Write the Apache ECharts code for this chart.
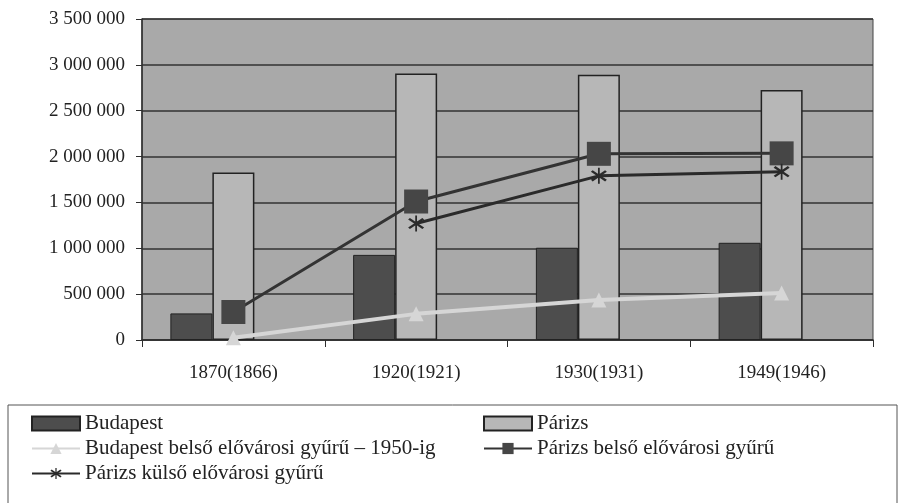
<!DOCTYPE html>
<html>
<head>
<meta charset="utf-8">
<script src="https://cdn.jsdelivr.net/npm/echarts@6/dist/echarts.min.js"></script>
<style>
  html, body { margin: 0; padding: 0; background: #fff; }
  #main { width: 905px; height: 503px; }
</style>
</head>
<body>
<div id="main"></div>
<script>
// kategóriák (év, zárójelben a párizsi adat éve)
var categories = ['1870(1866)', '1920(1921)', '1930(1931)', '1949(1946)'];

// oszlopok
var budapest = [290000, 928000, 1006000, 1060000];
var parizs = [1825000, 2906000, 2891000, 2725000];

// vonalak
var bpBelso = [25000, 285000, 436000, 512000];
var parizsBelso = [305000, 1510000, 2030000, 2035000];
var parizsKulso = [null, 1270000, 1790000, 1835000];

var seriesNames = [
    'Budapest',
    'Párizs',
    'Budapest belső elővárosi gyűrű – 1950-ig',
    'Párizs belső elővárosi gyűrű',
    'Párizs külső elővárosi gyűrű'
];

var font = 'Liberation Serif';
var dark = '#2e2e2e';

// csillag alakú jelölő
var asterisk = 'path://M9,0L11,0L11,20L9,20Z M1,5L3,3L19,15L17,17Z M17,3L19,5L3,17L1,15Z';

function fmt(v) {
    return String(v).replace(/\B(?=(\d{3})+(?!\d))/g, ' ');
}

var myChart = echarts.init(document.getElementById('main'));

var legendBase = {
    orient: 'vertical',
    top: 412,
    height: 150,
    padding: 0,
    itemWidth: 48,
    itemHeight: 14,
    itemGap: 2,
    textStyle: { color: '#222', fontFamily: font, fontSize: 21, lineHeight: 23 }
};

var option = {
    animation: false,
    grid: {
        left: 142,
        right: 32,
        top: 19,
        bottom: 163,
        show: true,
        backgroundColor: '#a9a9a9',
        borderColor: '#444',
        borderWidth: 1
    },
    xAxis: {
        type: 'category',
        data: categories,
        axisLine: { lineStyle: { color: dark, width: 1.5 } },
        axisTick: { show: true, length: 7, lineStyle: { color: dark } },
        axisLabel: { color: '#222', fontFamily: font, fontSize: 19, margin: 24 }
    },
    yAxis: {
        type: 'value',
        min: 0,
        max: 3500000,
        interval: 500000,
        axisLine: { show: true, lineStyle: { color: dark, width: 1.5 } },
        axisTick: { show: true, length: 6, lineStyle: { color: dark } },
        axisLabel: {
            color: '#222', fontFamily: font, fontSize: 19, margin: 17,
            formatter: fmt
        },
        splitLine: { lineStyle: { color: '#333', width: 1.5 } }
    },
    legend: [
        Object.assign({}, legendBase, {
            left: 31,
            data: [
                { name: seriesNames[0], icon: 'rect' },
                seriesNames[2],
                seriesNames[4]
            ]
        }),
        Object.assign({}, legendBase, {
            left: 483,
            data: [
                { name: seriesNames[1], icon: 'rect' },
                seriesNames[3]
            ]
        })
    ],
    graphic: [
        {
            type: 'rect',
            shape: { x: 8, y: 405, width: 889, height: 110 },
            style: { fill: 'none', stroke: '#555', lineWidth: 1 },
            silent: true
        }
    ],
    series: [
        {
            name: seriesNames[0],
            type: 'bar',
            barWidth: 42,
            barGap: '0%',
            itemStyle: { color: '#4d4d4d', borderColor: '#222', borderWidth: 1 },
            data: budapest
        },
        {
            name: seriesNames[1],
            type: 'bar',
            barWidth: 42,
            barGap: '0%',
            itemStyle: { color: '#b7b7b7', borderColor: '#222', borderWidth: 1.5 },
            data: parizs
        },
        {
            // üres hely a harmadik oszlopnak (mint az eredeti táblázatban)
            name: '_ures',
            type: 'bar',
            barWidth: 42,
            barGap: '0%',
            data: []
        },
        {
            name: seriesNames[2],
            type: 'line',
            symbol: 'triangle',
            symbolSize: 15,
            lineStyle: { color: '#d6d6d6', width: 4 },
            itemStyle: { color: '#d6d6d6' },
            data: bpBelso
        },
        {
            name: seriesNames[3],
            type: 'line',
            symbol: 'rect',
            symbolSize: 24,
            lineStyle: { color: '#333', width: 3 },
            itemStyle: { color: '#464646' },
            data: parizsBelso
        },
        {
            name: seriesNames[4],
            type: 'line',
            symbol: asterisk,
            symbolSize: 16,
            lineStyle: { color: '#2a2a2a', width: 3 },
            itemStyle: { color: '#2a2a2a' },
            data: parizsKulso
        }
    ]
};

myChart.setOption(option);
</script>
</body>
</html>
